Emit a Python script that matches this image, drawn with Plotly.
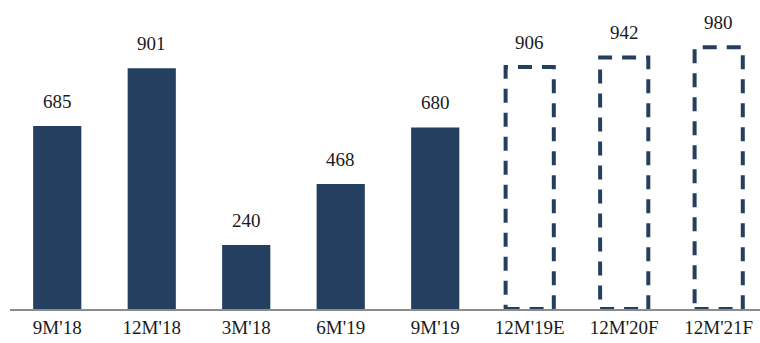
import plotly.graph_objects as go

categories = ["9M'18", "12M'18", "3M'18", "6M'19", "9M'19", "12M'19E", "12M'20F", "12M'21F"]
values = [685, 901, 240, 468, 680, 906, 942, 980]
is_forecast = [False, False, False, False, False, True, True, True]

NAVY = "#253F60"
BAR_W = 0.51
FONT = "'Liberation Serif', 'Times New Roman', serif"

xs = list(range(len(categories)))
act_x = [x for x, f in zip(xs, is_forecast) if not f]
act_y = [v for v, f in zip(values, is_forecast) if not f]

fig = go.Figure()
fig.add_trace(go.Bar(x=act_x, y=act_y, width=BAR_W, marker=dict(color=NAVY, line=dict(width=0)),
                     hoverinfo="skip"))

shapes = []
for x, v, f in zip(xs, values, is_forecast):
    if f:
        shapes.append(dict(type="rect", xref="x", yref="y", x0=x - BAR_W / 2, x1=x + BAR_W / 2,
                           y0=0, y1=v, line=dict(color=NAVY, width=4, dash="14px,10px"),
                           fillcolor="white", layer="above"))

annotations = [dict(x=x, y=v, xref="x", yref="y", text=str(v), showarrow=False,
                    yanchor="bottom", yshift=12, font=dict(family=FONT, size=19, color="#1a1a1a"))
               for x, v in zip(xs, values)]

fig.update_layout(
    width=760, height=343, margin=dict(l=10, r=0, t=0, b=34),
    paper_bgcolor="white", plot_bgcolor="white", showlegend=False,
    shapes=shapes, annotations=annotations,
    xaxis=dict(range=[-0.5, 7.437], tickmode="array", tickvals=xs, ticktext=categories,
               showgrid=False, zeroline=False, showline=True, linecolor="#8c8c8c", linewidth=2,
               ticks="", tickfont=dict(family=FONT, size=19, color="#1a1a1a")),
    yaxis=dict(range=[0, 1157], visible=False, showgrid=False, zeroline=False),
)

fig.write_html("out.html")
